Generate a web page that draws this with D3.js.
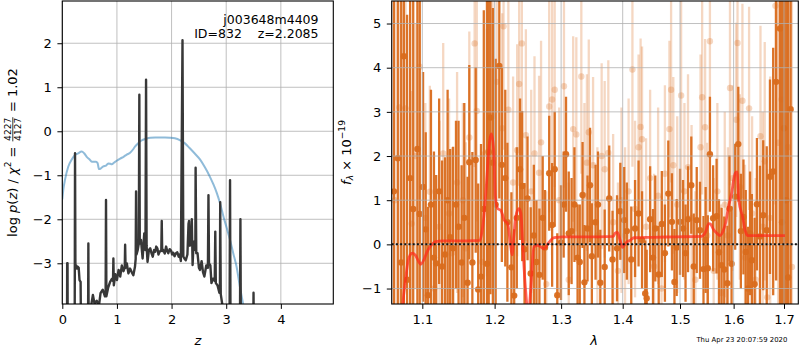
<!DOCTYPE html>
<html>
<head>
<meta charset="utf-8">
<script src="https://cdn.jsdelivr.net/npm/d3@7/dist/d3.min.js"></script>
<style>
html,body{margin:0;padding:0;background:#fff;}
svg text{font-family:"DejaVu Sans",sans-serif;white-space:pre;}
</style>
</head>
<body>
<svg id="chart" width="800" height="350" xmlns="http://www.w3.org/2000/svg"></svg>
<script>
// ---------------- DATA ----------------
// Left panel: log p(z) and prior
const pzZ = [0.00,0.086,0.089,0.096,0.099,0.226,0.233,0.240,0.255,0.27,
 0.285,0.30,0.315,0.335,0.345,0.47,0.477,0.484,0.50,0.53,
 0.56,0.59,0.63,0.67,0.70,0.74,0.78,0.793,0.80,0.807,
 0.84,0.875,0.91,0.928,0.935,0.943,0.97,1.00,1.03,1.06,
 1.09,1.12,1.143,1.15,1.158,1.18,1.21,1.24,1.27,1.30,
 1.33,1.343,1.35,1.358,1.38,1.40,1.41,1.418,1.44,1.47,
 1.50,1.522,1.533,1.543,1.56,1.585,1.61,1.635,1.655,1.68,
 1.70,1.72,1.74,1.76,1.78,1.812,1.82,1.828,1.85,1.875,
 1.90,1.92,1.94,1.965,1.99,2.01,2.03,2.055,2.08,2.105,
 2.13,2.15,2.17,2.2,2.215,2.24,2.26,2.29,2.31,2.32,
 2.335,2.345,2.36,2.37,2.385,2.40,2.42,2.435,2.44,2.452,
 2.475,2.50,2.52,2.55,2.575,2.60,2.635,2.665,2.675,2.685,
 2.71,2.73,2.76,2.79,2.80,2.81,2.84,2.875,2.885,2.89,
 2.90,2.93,2.95,3.06,3.07,3.08,3.25,3.26,3.27,3.492,
 3.50,3.508,3.70];
const pzLog = [-5,-5,-3.0,-3.0,-5,-5,-0.50,-3.08,-3.05,-3.12,
 -3.08,-3.10,-3.38,-3.42,-5,-5,-2.55,-5,-5,-3.95,
 -3.72,-3.92,-3.85,-3.97,-3.68,-3.60,-3.75,-3.7,-1.56,-3.75,
 -3.55,-3.42,-3.35,-3.4,-2.89,-3.5,-3.25,-3.38,-3.15,-3.30,
 -3.05,-3.18,-3.1,-2.58,-3.1,-3.0,-3.23,-3.12,-3.2,-3.27,
 -3.08,-2.9,-1.37,-2.8,-2.70,-2.55,0.83,-2.55,-2.47,-2.89,
 -2.32,-2.7,1.17,-2.6,-2.97,-2.70,-2.66,-2.78,-2.85,-2.70,
 -2.74,-2.62,-2.66,-2.80,-2.74,-2.7,-2.04,-2.72,-2.70,-2.78,
 -2.62,-2.72,-2.77,-2.68,-2.71,-2.80,-2.76,-2.84,-2.77,-2.75,
 -2.85,-2.80,-2.95,2.07,-2.85,-2.9,-2.93,-2.80,-2.1,-2.04,
 -2.6,-2.23,-2.5,-2.0,-3.04,-2.6,-2.5,-2.7,-0.83,-2.77,
 -2.77,-3.1,-3.15,-2.95,-3.2,-3.30,-3.05,-3.1,-1.45,-3.0,
 -3.05,-3.45,-3.35,-3.4,-2.28,-3.45,-3.5,-3.67,-3.6,-1.61,
 -3.7,-3.95,-5,-5,-1.11,-5,-5,-2.0,-5,-5,
 -3.67,-5,-5];
const priorZ = [0.0,0.018,0.05,0.11,0.17,0.23,0.29,0.355,0.40,0.447,0.50,0.54,0.617,0.645,0.672,0.71,0.75,0.80,0.84,0.88,0.905,0.95,0.996,1.06,1.12,1.18,1.24,1.29,1.33,1.39,1.45,1.53,1.61,1.70,1.79,1.88,1.97,2.06,2.15,2.24,2.33,2.42,2.52,2.61,2.70,2.77,2.83,2.89,2.95,3.01,3.07,3.13,3.19,3.25,3.29,3.34];
const priorLog = [-1.55,-1.33,-1.1,-0.80,-0.65,-0.54,-0.50,-0.46,-0.50,-0.58,-0.64,-0.69,-0.69,-0.72,-0.86,-0.84,-0.80,-0.78,-0.73,-0.74,-0.75,-0.71,-0.67,-0.62,-0.58,-0.53,-0.49,-0.42,-0.35,-0.27,-0.21,-0.17,-0.145,-0.14,-0.14,-0.14,-0.145,-0.16,-0.20,-0.27,-0.38,-0.50,-0.64,-0.82,-1.03,-1.22,-1.41,-1.65,-1.94,-2.2,-2.47,-2.78,-3.08,-3.53,-3.8,-4.1];
const zTicks = [0,1,2,3,4];
const logpTicks = [-3,-2,-1,0,1,2];

// Right panel: spectrum (dark = primary, light = second beam), model
const darkWave = [1.063,1.068,1.0724,1.0758,1.080,1.084,1.088,1.0935,1.0966,1.101,
 1.1045,1.1075,1.1115,1.1155,1.1185,1.1225,1.1265,1.1305,1.134,1.1375,
 1.1415,1.1455,1.149,1.1533,1.157,1.1616,1.164,1.1683,1.173,1.1765,
 1.1805,1.1845,1.189,1.1915,1.194,1.1975,1.2015,1.2068,1.2105,1.2155,
 1.2186,1.2245,1.2286,1.2325,1.2373,1.2405,1.244,1.2485,1.2533,1.258,
 1.262,1.2665,1.2715,1.275,1.2815,1.286,1.290,1.294,1.2998,1.304,
 1.3077,1.312,1.3165,1.321,1.326,1.3295,1.334,1.337,1.342,1.346,
 1.349,1.355,1.359,1.3628,1.370,1.3775,1.383,1.3905,1.396,1.4025,
 1.407,1.4145,1.421,1.427,1.433,1.4385,1.441,1.447,1.452,1.456,
 1.462,1.4675,1.473,1.479,1.4855,1.490,1.494,1.500,1.5055,1.510,
 1.5145,1.5205,1.525,1.5305,1.5365,1.543,1.547,1.551,1.555,1.561,
 1.5675,1.572,1.577,1.582,1.588,1.592,1.596,1.603,1.609,1.614,
 1.619,1.6235,1.628,1.632,1.6355,1.641,1.6455,1.6515,1.658,1.665,
 1.6715,1.678,1.684,1.6917,1.696,1.700,1.7045,1.7085,1.7136];
const darkFlux = [1.2,1.95,-0.41,4.26,-0.8,1.5,0.8,2.16,0.69,1.3,
 0.34,-1.15,0.9,-0.3,-0.43,1.2,-0.5,-0.23,1.0,0.16,
 -0.09,0.9,0.4,-0.41,0.6,-0.87,1.86,-0.41,1.91,-1.02,
 -0.73,0.8,-0.44,2.09,2.87,1.85,0.9,4.04,1.8,1.5,
 0.50,-0.52,-1.16,0.6,1.70,1.32,-0.11,1.04,-0.66,0.2,
 -0.40,-0.69,0.6,-0.07,1.61,0.44,1.70,-1.15,0.04,0.9,
 2.04,0.25,0.30,0.9,-0.30,-0.40,1.12,-0.86,0.36,1.34,
 -0.27,0.5,0.9,-0.87,-0.51,1.04,-0.34,-0.09,0.75,0.55,
 0.3,-0.34,0.36,0.70,0.1,-1.11,-1.22,0.57,-0.3,0.36,
 -0.68,0.46,-0.2,1.15,0.51,-0.85,-0.07,0.51,0.36,-0.2,
 0.57,1.34,-0.5,0.55,0.32,-0.56,0.1,-0.54,2.04,0.59,
 0.64,-0.18,-0.47,-0.57,-0.88,0.81,-0.44,1.08,2.27,0.3,
 0.62,-0.17,-1.0,0.25,-0.36,-0.9,0.91,0.18,0.66,0.32,
 1.53,1.65,3.68,4.89,0.5,2.63,1.0,-0.75,3.06];
const darkErr = [8,8,7,8,6,7,6,6,5,2.6,
 2.2,2.0,2.6,2.4,2.0,2.1,2.4,2.2,2.5,2.0,
 2.3,1.9,2.4,2.2,2.6,2.4,2.2,2.5,2.1,2.4,
 3.0,4.5,6,5,4,3.5,3.3,3.0,2.2,2.0,
 1.8,1.7,1.5,1.6,1.6,1.7,1.5,1.4,1.5,1.6,
 1.4,1.5,1.4,1.3,1.3,1.4,1.3,1.4,1.3,1.2,
 1.3,1.4,1.2,1.3,1.2,1.3,1.2,1.3,1.2,1.3,
 1.2,1.3,1.2,1.2,1.3,1.2,1.1,1.2,1.1,1.2,
 1.1,1.2,1.1,1.2,1.1,1.2,1.1,1.2,1.1,1.2,
 1.1,1.2,1.1,1.2,1.1,1.2,1.1,1.2,1.1,1.1,
 1.2,1.1,1.2,1.2,1.1,1.2,1.2,1.2,1.3,1.2,
 1.3,1.2,1.3,1.2,1.3,1.2,1.3,1.2,1.3,1.3,
 1.3,1.4,1.4,1.4,1.5,1.5,1.5,1.6,1.7,1.9,
 2.2,2.8,4.5,7,8,8,8,8,8];
const lightWave = [1.064,1.070,1.078,1.086,1.091,1.0966,1.104,1.110,1.116,1.123,
 1.128,1.136,1.140,1.147,1.155,1.159,1.164,1.1715,1.1745,1.182,
 1.189,1.197,1.203,1.211,1.213,1.220,1.227,1.233,1.236,1.240,
 1.246,1.254,1.259,1.266,1.269,1.277,1.2815,1.286,1.290,1.297,
 1.3045,1.312,1.319,1.324,1.332,1.337,1.341,1.344,1.351,1.358,
 1.365,1.370,1.376,1.384,1.392,1.398,1.404,1.410,1.4165,1.421,
 1.427,1.4305,1.433,1.440,1.447,1.454,1.461,1.467,1.473,1.481,
 1.484,1.488,1.495,1.502,1.508,1.5145,1.521,1.528,1.5375,1.5405,
 1.546,1.550,1.555,1.562,1.569,1.576,1.583,1.589,1.593,1.598,
 1.605,1.6075,1.612,1.617,1.622,1.630,1.636,1.643,1.6525,1.657,
 1.661,1.666,1.672,1.6825,1.688,1.695,1.701,1.708,1.7163];
const lightFlux = [1.0,3.1,3.08,0.47,2.0,4.02,0.6,1.19,-1.0,0.4,
 2.06,0.70,-0.2,1.40,1.0,-0.09,2.42,4.55,3.02,-0.4,
 2.08,2.9,3.68,2.63,4.94,3.05,1.4,2.13,3.63,4.55,
 2.47,1.2,2.06,1.62,2.31,-0.9,3.12,3.28,3.5,1.0,
 3.58,-0.8,2.61,2.49,3.8,1.1,1.85,2.54,1.79,0.2,
 2.0,1.7,2.07,0.5,-0.6,1.0,0.2,1.2,3.96,0.8,
 2.2,2.66,2.38,0.4,1.5,-0.5,1.1,-1.0,1.6,2.61,
 3.5,1.79,0.9,3.37,1.2,1.75,0.6,-0.8,2.2,3.33,
 2.65,0.2,4.6,-0.6,1.2,-1.1,0.9,0.2,3.54,1.5,
 2.82,4.56,1.3,3.25,-0.3,3.08,0.7,-0.8,2.45,0.4,
 1.88,-1.2,0.6,5.4,2.3,3.28,1.0,2.2,-0.51];
const lightErr = [6,5,4,3,3,3,2.6,2.4,2.2,2.4,
 2.5,2.6,2.4,2.5,2.2,2.4,2.4,2.8,2.5,2.5,
 2.8,3,2.7,2.6,2.8,2.5,2.4,2.4,2.3,2.5,
 2.4,2.3,2.2,2.2,2.3,2.1,2.4,2.3,2.2,2.1,
 2.3,2.2,2.1,2.2,2.2,2.1,2.0,2.1,2.0,2.0,
 2.1,2.0,2.1,2.0,2.0,2.1,2.0,2.1,2.2,2.0,
 2.1,2.0,2.1,2.0,2.0,2.1,2.0,2.1,2.0,2.0,
 2.1,2.0,2.0,2.2,2.0,2.1,2.1,2.0,2.1,2.2,
 2.0,2.1,2.3,2.1,2.0,2.0,2.1,2.0,2.2,2.1,
 2.2,2.3,2.1,2.2,2.1,2.3,2.2,2.3,2.5,2.6,
 2.7,2.9,3.2,4.5,5,6,7,8,8];
const modelWave = [1.072,1.0746,1.078,1.0815,1.084,1.087,1.091,1.095,1.098,1.102,1.106,1.110,1.114,1.118,1.127,1.140,1.155,1.170,1.179,1.182,1.184,1.186,1.188,1.1905,1.193,1.1955,1.199,1.201,1.2045,1.209,1.214,1.219,1.223,1.2255,1.228,1.232,1.236,1.2385,1.241,1.2435,1.246,1.2495,1.2536,1.258,1.264,1.269,1.274,1.2795,1.287,1.294,1.302,1.330,1.360,1.3845,1.387,1.391,1.3955,1.400,1.4035,1.408,1.4124,1.419,1.450,1.490,1.5395,1.546,1.553,1.556,1.562,1.5675,1.574,1.580,1.585,1.589,1.596,1.603,1.6065,1.610,1.6175,1.6225,1.627,1.650,1.680,1.702];
const modelFlux = [-2.2,-1.35,-0.8,-0.36,-0.24,-0.20,-0.25,-0.38,-0.45,-0.35,-0.18,-0.06,0.02,0.06,0.08,0.08,0.08,0.085,0.09,0.3,0.55,0.9,1.30,1.9,2.36,2.50,2.06,1.08,0.81,0.77,0.55,0.47,0.02,-0.24,0.17,0.70,0.81,0.70,0.09,-0.58,-1.11,-1.6,-0.97,-0.06,-0.02,-0.06,-0.10,0.01,0.14,0.16,0.17,0.17,0.17,0.18,0.25,0.27,0.10,-0.07,0.0,0.06,0.09,0.15,0.16,0.17,0.18,0.26,0.47,0.46,0.33,0.26,0.20,0.31,0.50,0.78,1.15,1.61,1.64,1.0,0.62,0.31,0.20,0.20,0.20,0.20];
const waveTicks = [1.1,1.2,1.3,1.4,1.5,1.6,1.7];
const fluxTicks = [-1,0,1,2,3,4,5];

const titleLines = ["j003648m4409", "ID=832    z=2.2085"];
const timestamp = "Thu Apr 23 20:07:59 2020";

// ---------------- DRAW ----------------
const svg = d3.select("#chart");
const defs = svg.append("defs");
const FS = 13;
const fmtNum = v => (v < 0 ? "\u2212" : "") + Math.abs(v);
const zip = (a, b, c) => a.map((v, i) => c ? [v, b[i], c[i]] : [v, b[i]]);

function clip(id, P) {
  defs.append("clipPath").attr("id", id).append("rect")
    .attr("x", P.l).attr("y", P.t).attr("width", P.r - P.l).attr("height", P.b - P.t);
}
function grid(g, xs, ys, xt, yt, P) {
  const gg = g.append("g").attr("stroke", "#b0b0b0").attr("stroke-width", 0.8);
  gg.selectAll("line.gx").data(xt).join("line").attr("class","gx")
    .attr("x1", d => xs(d)).attr("x2", d => xs(d)).attr("y1", P.t).attr("y2", P.b);
  gg.selectAll("line.gy").data(yt).join("line").attr("class","gy")
    .attr("y1", d => ys(d)).attr("y2", d => ys(d)).attr("x1", P.l).attr("x2", P.r);
}
function axes(xs, ys, xt, yt, P, xfmt) {
  const ax = svg.append("g").attr("transform", `translate(0,${P.b})`)
    .call(d3.axisBottom(xs).tickValues(xt).tickSize(4.9).tickPadding(6.3).tickFormat(xfmt));
  const ay = svg.append("g").attr("transform", `translate(${P.l},0)`)
    .call(d3.axisLeft(ys).tickValues(yt).tickSize(4.9).tickPadding(5.6).tickFormat(fmtNum));
  [ax, ay].forEach(a => {
    a.select(".domain").remove();
    a.attr("font-family", "DejaVu Sans, sans-serif").attr("font-size", FS);
    a.selectAll("line").attr("stroke", "#000").attr("stroke-width", 1);
    a.selectAll("text").attr("fill", "#000");
  });
  svg.append("rect").attr("x", P.l).attr("y", P.t).attr("width", P.r - P.l).attr("height", P.b - P.t)
    .attr("fill", "none").attr("stroke", "#000").attr("stroke-width", 1.1);
}
function mathLabel(parts, cx, cy, rotate) {
  const g = svg.append("g");
  const inner = g.append("g");
  let x = 0;
  parts.forEach(p => {
    if (p.frac) {
      const sf = FS * 0.7;
      const n = inner.append("text").attr("font-size", sf).text(p.frac[0]);
      const d = inner.append("text").attr("font-size", sf).text(p.frac[1]);
      const w = Math.max(n.node().getComputedTextLength(), d.node().getComputedTextLength());
      const bar = -FS * 0.3;
      n.attr("x", x + 1.5 + w / 2).attr("y", bar - 1.8).attr("text-anchor", "middle");
      d.attr("x", x + 1.5 + w / 2).attr("y", bar + 1.8 + sf * 0.73).attr("text-anchor", "middle");
      inner.append("line").attr("x1", x + 1).attr("x2", x + 2 + w).attr("y1", bar).attr("y2", bar)
        .attr("stroke", "#000").attr("stroke-width", 0.8);
      x += w + 3;
    } else {
      const fs = p.sup || p.sub ? FS * 0.7 : FS;
      const dy = p.sup ? -FS * 0.42 : (p.sub ? FS * 0.2 : 0);
      const t = inner.append("text").attr("x", x).attr("y", dy).attr("font-size", fs)
        .style("font-style", p.i ? "italic" : "normal").text(p.t);
      x += t.node().getComputedTextLength();
    }
  });
  inner.attr("transform", `translate(${-x / 2},0)`);
  g.attr("transform", `translate(${cx},${cy}) rotate(${rotate})`);
}

// ----- Left panel -----
const LP = {l: 62.3, r: 333.3, t: 1, b: 304};
const xL = d3.scaleLinear().domain([0, 4.96]).range([LP.l, LP.r]);
const yL = d3.scaleLinear().domain([-3.925, 2.96]).range([LP.b, LP.t]);
clip("clipL", LP);
const gL = svg.append("g");
grid(gL, xL, yL, zTicks, logpTicks, LP);
const dL = gL.append("g").attr("clip-path", "url(#clipL)");
dL.append("path").datum(zip(priorZ, priorLog))
  .attr("d", d3.line().x(d => xL(d[0])).y(d => yL(d[1])).curve(d3.curveMonotoneX))
  .attr("fill", "none").attr("stroke", "#1f77b4").attr("stroke-opacity", 0.5).attr("stroke-width", 2);
dL.append("path").datum(zip(pzZ, pzLog)).attr("d", d3.line().x(d => xL(d[0])).y(d => yL(d[1])))
  .attr("fill", "none").attr("stroke", "#383838").attr("stroke-width", 2.4)
  .attr("stroke-linejoin", "round").attr("stroke-linecap", "round");
axes(xL, yL, zTicks, logpTicks, LP, fmtNum);
titleLines.forEach((s, i) => {
  svg.append("text").attr("x", 318.5).attr("y", 24 + i * 14.3).attr("text-anchor", "end")
    .attr("font-size", 12.5).text(s);
});
svg.append("text").attr("x", (LP.l + LP.r) / 2).attr("y", 345).attr("text-anchor", "middle")
  .attr("font-size", FS).style("font-style", "italic").text("z");
mathLabel([{t:"log "},{t:"p",i:1},{t:"("},{t:"z",i:1},{t:") / "},{t:"χ",i:1},{t:"2",sup:1},{t:" = "},
  {frac:["4227","4127"]},{t:" = 1.02"}], 16.7, 152.5, -90);

// ----- Right panel -----
const RP = {l: 391.7, r: 798.3, t: 1, b: 304};
const xR = d3.scaleLog().domain([1.0602, 1.7295]).range([RP.l, RP.r]);
const yR = d3.scaleLinear().domain([-1.35, 5.51]).range([RP.b, RP.t]);
clip("clipR", RP);
const dR = svg.append("g").attr("clip-path", "url(#clipR)");
const ORANGE = "#d96c1c";
function errSeries(data, op) {
  const g = dR.append("g");
  g.selectAll("line").data(data).join("line")
    .attr("x1", d => xR(d[0])).attr("x2", d => xR(d[0]))
    .attr("y1", d => yR(d[1] - d[2])).attr("y2", d => yR(d[1] + d[2]))
    .attr("stroke", ORANGE).attr("stroke-opacity", op).attr("stroke-width", 2.3);
  g.selectAll("circle").data(data).join("circle")
    .attr("cx", d => xR(d[0])).attr("cy", d => yR(d[1])).attr("r", 3.2)
    .attr("fill", ORANGE).attr("fill-opacity", op);
}
errSeries(zip(lightWave, lightFlux, lightErr), 0.27);
errSeries(zip(darkWave, darkFlux, darkErr), 0.95);
grid(dR, xR, yR, waveTicks, fluxTicks, RP);
dR.append("path").datum(zip(modelWave, modelFlux))
  .attr("d", d3.line().x(d => xR(d[0])).y(d => yR(d[1])).curve(d3.curveMonotoneX))
  .attr("fill", "none").attr("stroke", "#ff2a1a").attr("stroke-opacity", 0.72).attr("stroke-width", 2.8)
  .attr("stroke-linejoin", "round");
dR.append("line").datum(0).attr("x1", RP.l).attr("x2", RP.r)
  .attr("y1", d => yR(d)).attr("y2", d => yR(d))
  .attr("stroke", "#111").attr("stroke-width", 2).attr("stroke-dasharray", "2,2.2");
axes(xR, yR, waveTicks, fluxTicks, RP, d3.format(".1f"));
svg.append("text").attr("x", 594).attr("y", 345).attr("text-anchor", "middle")
  .attr("font-size", FS).style("font-style", "italic").text("λ");
mathLabel([{t:"f",i:1},{t:"λ",sub:1,i:1},{t:" × 10"},{t:"\u221219",sup:1}], 350.5, 152.5, -90);
svg.append("text").attr("x", 787.3).attr("y", 341.5).attr("text-anchor", "end")
  .attr("font-size", 6.9).text(timestamp);
</script>
</body>
</html>
